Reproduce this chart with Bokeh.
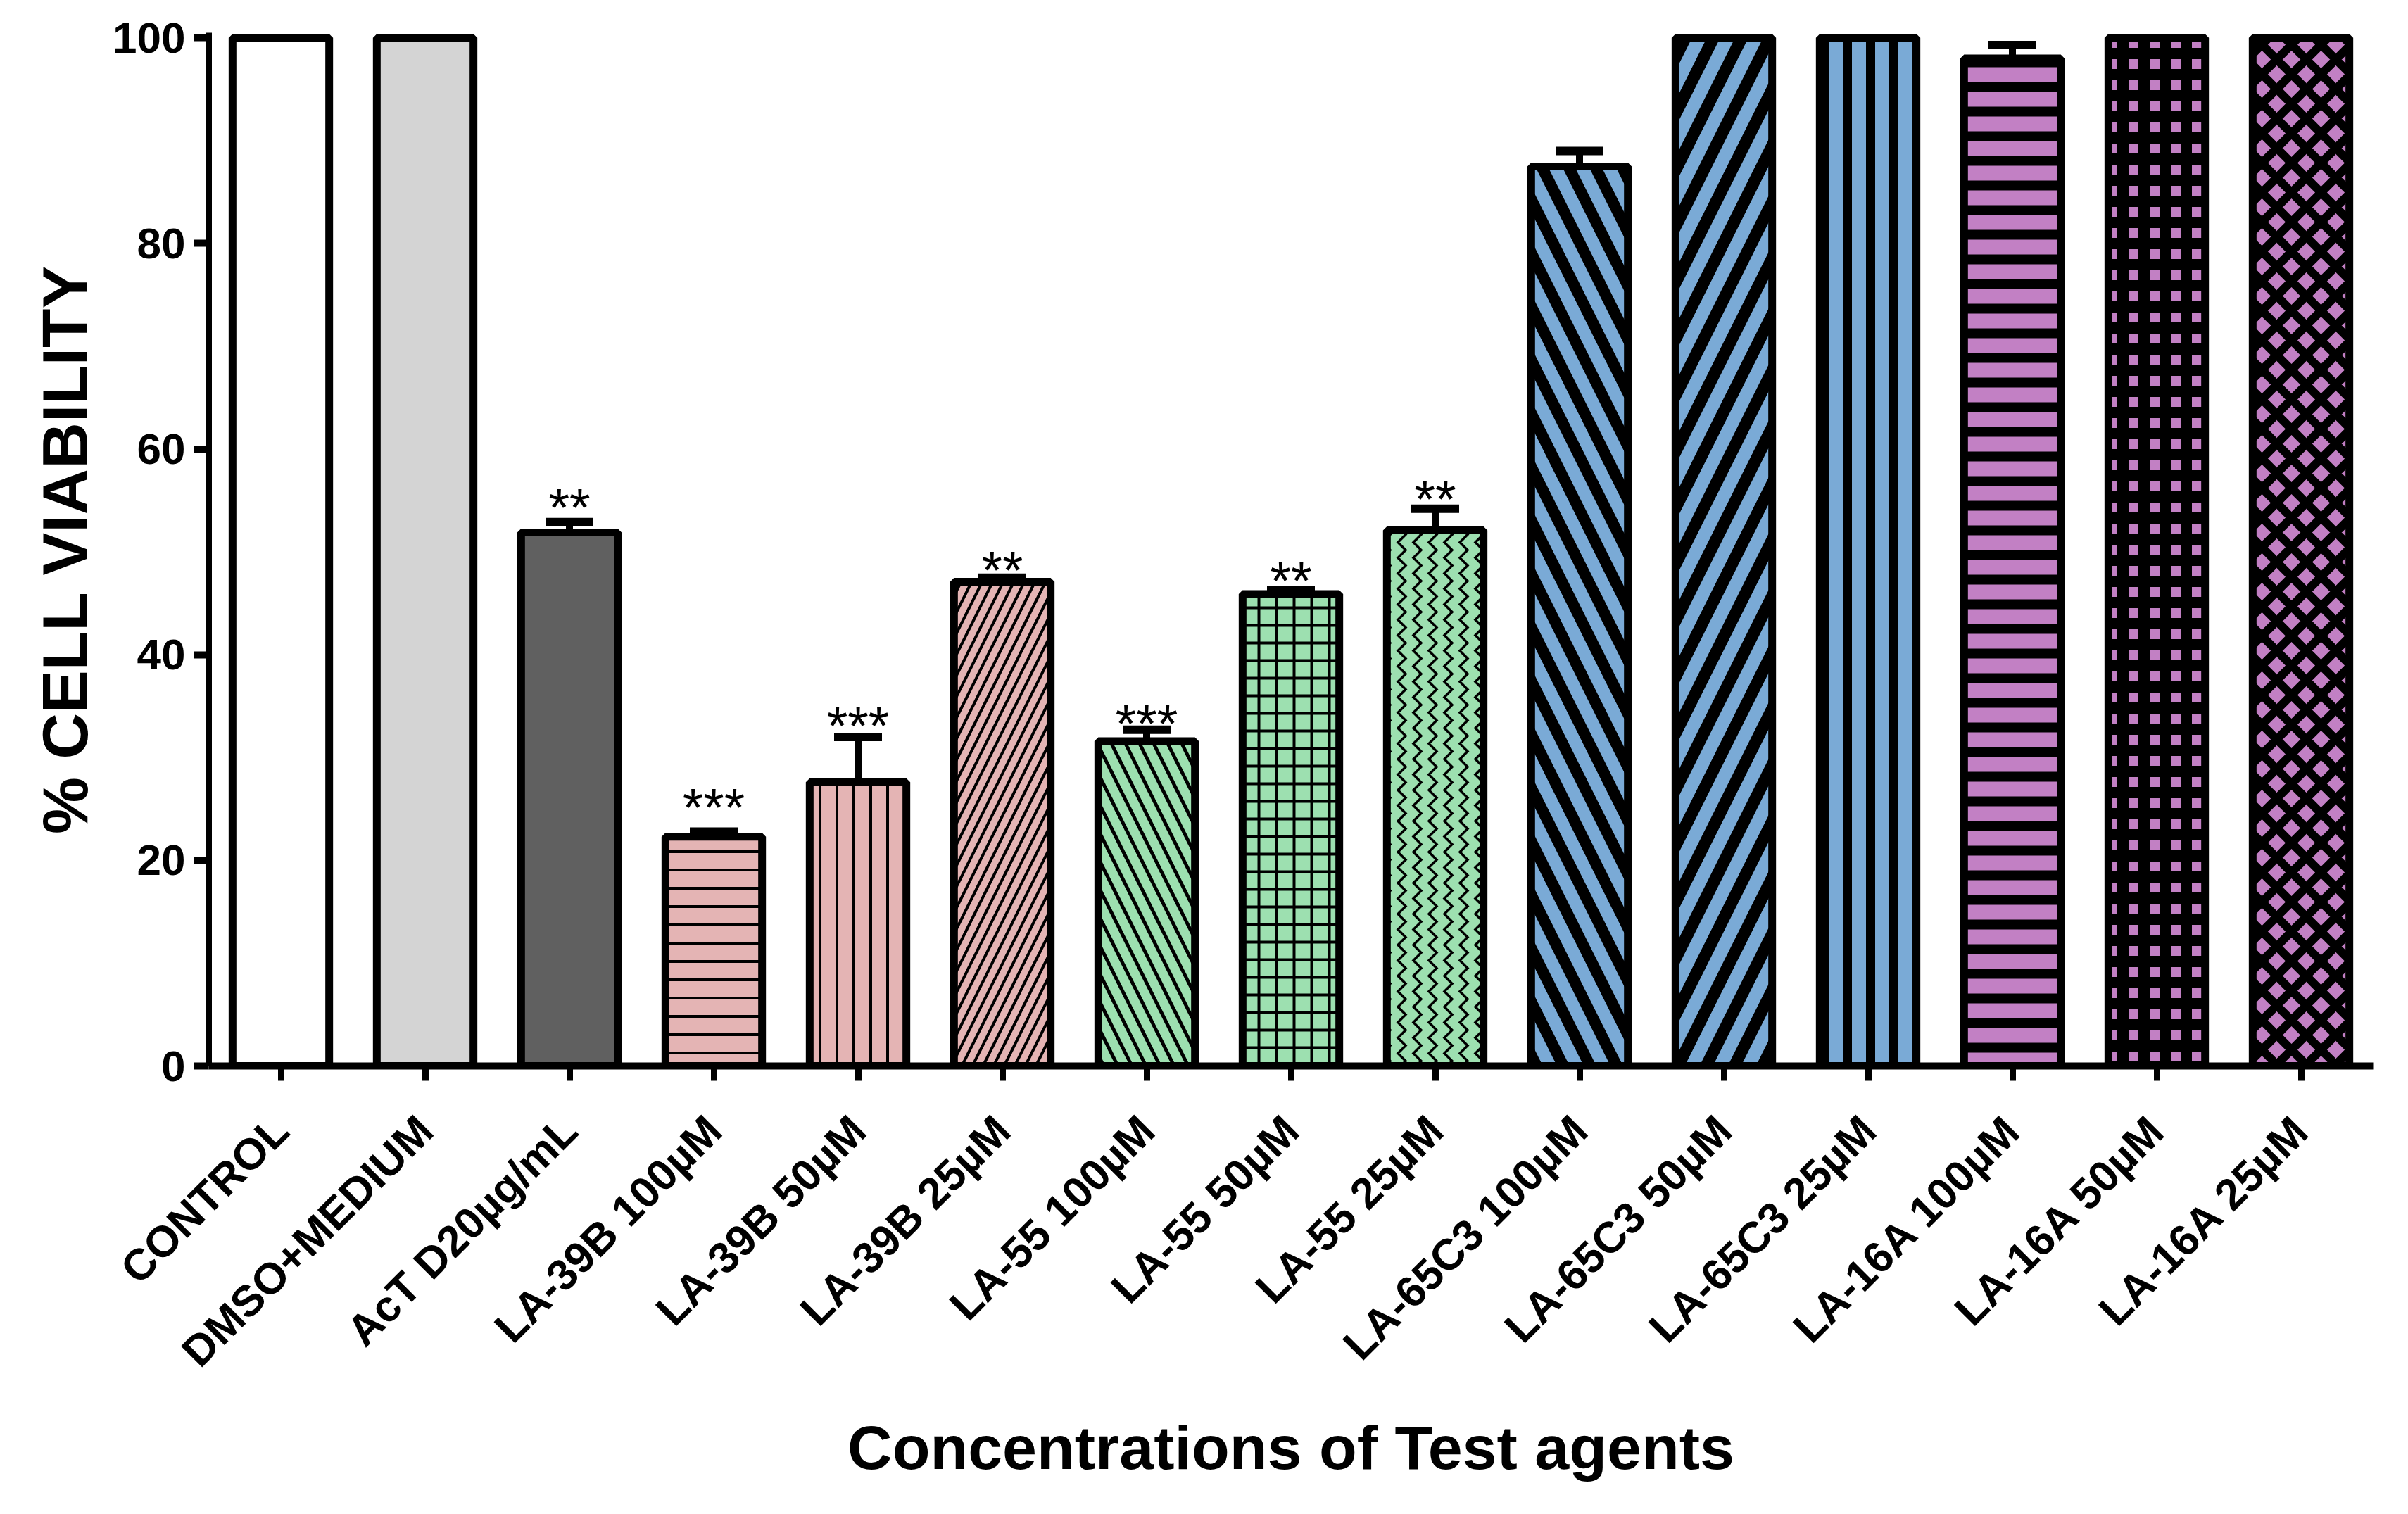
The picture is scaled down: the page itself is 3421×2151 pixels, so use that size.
import math
from bokeh.plotting import figure
from bokeh.models import FactorRange, Range1d, ColumnDataSource, Whisker, TeeHead, FixedTicker
from bokeh.embed import file_html
from bokeh.resources import INLINE
from bokeh.core.properties import value

categories = ["CONTROL", "DMSO+MEDIUM", "AcT D20µg/mL", "LA-39B 100µM", "LA-39B 50µM", "LA-39B 25µM",
              "LA-55 100µM", "LA-55 50µM", "LA-55 25µM", "LA-65C3 100µM", "LA-65C3 50µM", "LA-65C3 25µM",
              "LA-16A 100µM", "LA-16A 50µM", "LA-16A 25µM"]
viability = [100, 100, 51.9, 22.3, 27.6, 47.1, 31.6, 45.9, 52.1, 87.5, 100, 100, 98.0, 100, 100]
error_upper = [None, None, 52.9, 22.8, 32.0, 47.5, 32.7, 46.3, 54.2, 89.0, None, None, 99.3, None, None]
significance = ["", "", "**", "***", "***", "**", "***", "**", "**", "", "", "", "", "", ""]
significance_y = [None, None, 55.8, 26.6, 34.6, 49.7, 34.8, 48.7, 56.6, None, None, None, None, None, None]
y_ticks = [0, 20, 40, 60, 80, 100]

colors = ["#ffffff", "#d4d4d4", "#606060", "#e4b4b4", "#e4b4b4", "#e4b4b4",
          "#9de0b0", "#9de0b0", "#9de0b0", "#7aaad6", "#7aaad6", "#7aaad6",
          "#c280c4", "#c280c4", "#c280c4"]
patterns = [" ", " ", " ", "-", "|", "/", "\\", "+", ">", "\\", "/", "|", "-", "+", "x"]
hscale = [1, 1, 1, 26, 24, 30, 40, 25, 22, 76, 80, 33, 35, 30, 42]
hweight = [1, 1, 1, 4, 4, 4, 5, 4, 3.5, 16, 17, 13, 14, 16, 12]

bars = ColumnDataSource(dict(x=categories, top=viability, color=colors,
                             pat=patterns, hs=hscale, hw=hweight))

ex = [c for c, e in zip(categories, error_upper) if e is not None]
elow = [v for v, e in zip(viability, error_upper) if e is not None]
eup = [e for e in error_upper if e is not None]
err = ColumnDataSource(dict(x=ex, lower=elow, upper=eup))

sx = [c for c, s in zip(categories, significance) if s]
sy = [y for y, s in zip(significance_y, significance) if s]
st = [s for s in significance if s]

p = figure(x_range=FactorRange(*categories, range_padding=0),
           y_range=Range1d(0, 100.5), width=3405, height=2135,
           output_backend="svg", toolbar_location=None,
           min_border_left=296, min_border_right=34, min_border_top=46, min_border_bottom=621)
p.outline_line_color = None
p.xgrid.grid_line_color = None
p.ygrid.grid_line_color = None
p.background_fill_color = "white"
p.border_fill_color = "white"

p.vbar(x="x", top="top", width=0.67, source=bars, fill_color="color",
       line_color="black", line_width=11,
       hatch_pattern="pat", hatch_scale="hs", hatch_weight="hw", hatch_color="black")

w = Whisker(source=err, base="x", upper="upper", lower="lower", line_width=10, line_color="black",
            upper_head=TeeHead(size=68, line_width=12, line_color="black"), lower_head=None)
p.add_layout(w)

p.text(x=sx, y=sy, text=st, text_align="center", text_baseline="middle",
       text_font=value("Liberation Sans"), text_font_size="76px", y_offset=21, text_color="black")

ya = p.yaxis[0]
ya.ticker = FixedTicker(ticks=y_ticks)
ya.axis_label = "% CELL VIABILITY"
ya.axis_label_text_font = "Liberation Sans"
ya.axis_label_text_font_style = "bold"
ya.axis_label_text_font_size = "91px"
ya.axis_label_text_color = "black"
ya.axis_label_standoff = 14
ya.major_label_text_font = "Liberation Sans"
ya.major_label_text_font_style = "bold"
ya.major_label_text_font_size = "62px"
ya.major_label_text_color = "black"
ya.major_label_standoff = 12
ya.major_tick_out = 21
ya.major_tick_in = 0
ya.major_tick_line_width = 10
ya.major_tick_line_color = "black"
ya.minor_tick_line_color = None
ya.axis_line_width = 9
ya.axis_line_color = "black"

xa = p.xaxis[0]
xa.axis_label = "Concentrations of Test agents"
xa.axis_label_text_font = "Liberation Sans"
xa.axis_label_text_font_style = "bold"
xa.axis_label_text_font_size = "88px"
xa.axis_label_text_color = "black"
xa.axis_label_standoff = 25
xa.major_label_orientation = math.pi / 4
xa.major_label_text_font = "Liberation Sans"
xa.major_label_text_font_style = "bold"
xa.major_label_text_font_size = "62px"
xa.major_label_text_color = "black"
xa.major_label_standoff = 60
xa.major_tick_out = 21
xa.major_tick_in = 0
xa.major_tick_line_width = 9
xa.major_tick_line_color = "black"
xa.axis_line_width = 10
xa.axis_line_color = "black"

open("out.html", "w").write(file_html(p, INLINE))
